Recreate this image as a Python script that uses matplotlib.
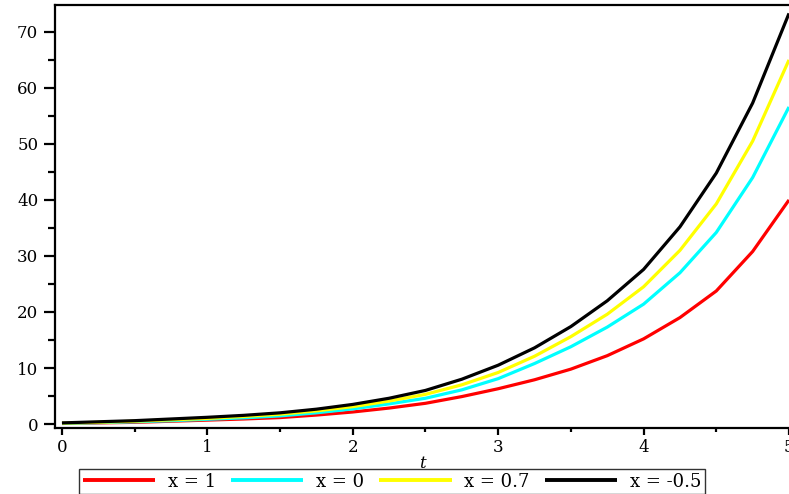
import numpy as np
import matplotlib
matplotlib.use("Agg")
import matplotlib.pyplot as plt
from matplotlib.ticker import MultipleLocator

plt.rcParams["font.family"] = ["DejaVu Serif"]

t = [0, 0.25, 0.5, 0.75, 1, 1.25, 1.5, 1.75, 2, 2.25, 2.5,
     2.75, 3, 3.25, 3.5, 3.75, 4, 4.25, 4.5, 4.75, 5]
y_x1 = [0.1, 0.2, 0.3, 0.5, 0.7, 0.9, 1.15, 1.6, 2.15, 2.85, 3.7,
        4.9, 6.3, 7.9, 9.8, 12.2, 15.2, 19.0, 23.75, 30.8, 40.0]
y_x0 = [0.1, 0.25, 0.4, 0.6, 0.85, 1.1, 1.45, 2.0, 2.7, 3.6, 4.6,
        6.1, 8.1, 10.8, 13.8, 17.3, 21.4, 27.0, 34.2, 44.0, 56.6]
y_x07 = [0.15, 0.3, 0.5, 0.75, 1.0, 1.35, 1.75, 2.35, 3.1, 4.1, 5.3,
         7.0, 9.2, 12.1, 15.6, 19.6, 24.5, 31.0, 39.3, 50.5, 65.0]
y_xm05 = [0.2, 0.4, 0.6, 0.9, 1.2, 1.55, 2.0, 2.65, 3.5, 4.6, 6.0,
          8.0, 10.5, 13.6, 17.4, 22.0, 27.6, 35.2, 44.8, 57.3, 73.3]

labels = ["x = 1", "x = 0", "x = 0.7", "x = -0.5"]
colors = ["#ff0000", "#00ffff", "#ffff00", "#000000"]
series = [y_x1, y_x0, y_x07, y_xm05]

fig = plt.figure(figsize=(7.89, 4.94), dpi=100)
ax = fig.add_axes([55 / 789, 66 / 494, 734 / 789, 423 / 494])

for ys, c, lab in zip(series, colors, labels):
    ax.plot(t, ys, color=c, linewidth=2.3, label=lab, solid_capstyle="butt")

ax.set_xlim(-0.048, 5.0)
ax.set_ylim(-0.71, 74.8)

ax.xaxis.set_major_locator(MultipleLocator(1))
ax.xaxis.set_minor_locator(MultipleLocator(0.5))
ax.yaxis.set_major_locator(MultipleLocator(10))
ax.yaxis.set_minor_locator(MultipleLocator(5))

for side in ["left", "top", "bottom"]:
    ax.spines[side].set_linewidth(1.6)
ax.spines["right"].set_visible(False)

ax.tick_params(axis="y", which="major", length=8, width=1.6, labelsize=12, pad=4)
ax.tick_params(axis="y", which="minor", length=5, width=1.6)
ax.tick_params(axis="x", which="major", length=5, width=1.6, labelsize=12, pad=3)
ax.tick_params(axis="x", which="minor", length=3, width=1.6)

ax.set_xlabel("t", fontsize=12, style="italic", labelpad=-1)

leg = fig.legend(loc="upper center", bbox_to_anchor=(392 / 789, 1 - 469 / 494),
                 ncol=4, fontsize=13, frameon=True, fancybox=False,
                 edgecolor="black", handlelength=4.0, handletextpad=0.7,
                 columnspacing=0.85, borderpad=0.2, borderaxespad=0)
leg.get_frame().set_linewidth(1.0)
for line in leg.get_lines():
    line.set_linewidth(2.8)

fig.savefig("out.png", dpi=100)
